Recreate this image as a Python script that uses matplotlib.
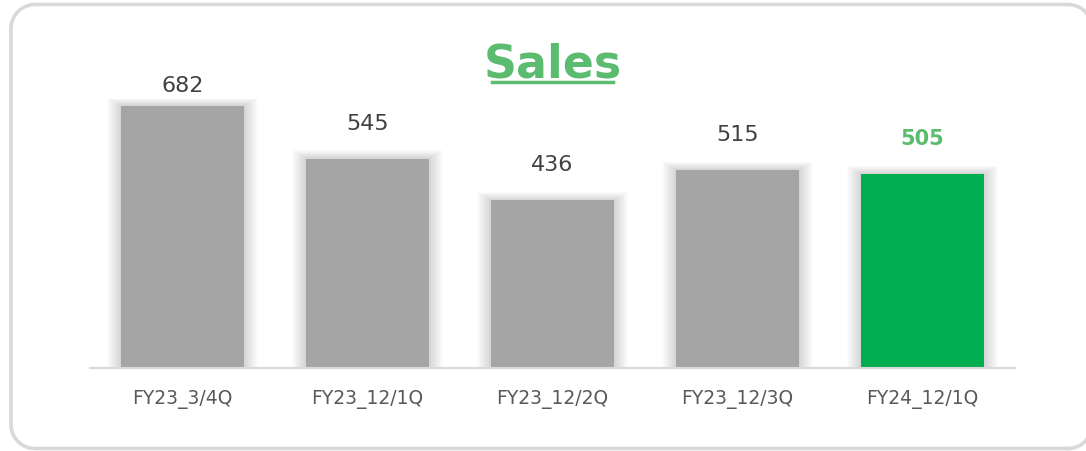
import matplotlib
matplotlib.use("Agg")
import numpy as np
import matplotlib.pyplot as plt
from matplotlib.lines import Line2D
from matplotlib.transforms import IdentityTransform

# ---------------- data ----------------
categories = ["FY23_3/4Q", "FY23_12/1Q", "FY23_12/2Q", "FY23_12/3Q", "FY24_12/1Q"]
sales = [682, 545, 436, 515, 505]
highlight = [False, False, False, False, True]

GRAY = "#A5A5A5"
GREEN = "#00AD4F"
TITLE_GREEN = "#5BBB6F"

W, H = 1086, 452
fig = plt.figure(figsize=(W / 100, H / 100), dpi=100)
fig.patch.set_facecolor("white")


def rounded_frame(x0, y0, x1, y1, r, n=20):
    # corner arcs, counter-clockwise, in pixel coords (y from bottom)
    xs, ys = [], []
    corners = [(x1 - r, y0 + r, -90), (x1 - r, y1 - r, 0),
               (x0 + r, y1 - r, 90), (x0 + r, y0 + r, 180)]
    for cx, cy, a0 in corners:
        t = np.radians(np.linspace(a0, a0 + 90, n))
        xs.extend(cx + r * np.cos(t))
        ys.extend(cy + r * np.sin(t))
    xs.append(xs[0])
    ys.append(ys[0])
    return xs, ys


fx, fy = rounded_frame(11, 2.5, 1092, 446.5, 24)
fig.lines.append(Line2D(fx, fy, transform=IdentityTransform(),
                        color="#D9D9D9", linewidth=2.6))

ax = fig.add_axes([90 / W, (H - 369) / H, 925 / W, 269 / H])
ymax = 700
ax.set_xlim(-0.5, len(categories) - 0.5)
ax.set_ylim(0, ymax)

px_x = 925 / len(categories)   # pixels per x unit
px_y = 269 / ymax              # pixels per y unit
bw = 123 / px_x

# soft shadow behind bars
for i, v in enumerate(sales):
    for m in range(1, 15):
        ax.bar(i, v + m * 0.6 / px_y + 3 / px_y, bottom=-3 / px_y,
               width=bw + 2 * m / px_x, color="black", alpha=0.012,
               linewidth=0, zorder=1)

colors = [GREEN if h else GRAY for h in highlight]
ax.bar(range(len(sales)), sales, width=bw, color=colors, linewidth=0, zorder=3)

for i, v in enumerate(sales):
    y = min(v + 26 / px_y, (369 - 96) / px_y)
    if highlight[i]:
        ax.text(i, y, str(v), ha="center", va="bottom", fontsize=15,
                fontweight="bold", color=TITLE_GREEN, zorder=4)
    else:
        ax.text(i, y, str(v), ha="center", va="bottom", fontsize=16,
                color="#404040", zorder=4)

for s in ["top", "right", "left"]:
    ax.spines[s].set_visible(False)
ax.spines["bottom"].set_color("#D9D9D9")
ax.spines["bottom"].set_linewidth(1.5)
ax.spines["bottom"].set_zorder(5)
ax.set_yticks([])
ax.set_xticks(range(len(categories)))
ax.set_xticklabels(categories, fontsize=13.5, color="#595959")
ax.tick_params(axis="x", length=0, pad=15)
ax.set_facecolor("none")

# title with underline
fig.text(553 / W, (H - 77) / H, "Sales", ha="center", va="baseline",
         fontsize=33, fontweight="bold", color=TITLE_GREEN)
fig.lines.append(Line2D([492 / W, 613 / W], [(H - 83) / H] * 2,
                        transform=fig.transFigure, color=TITLE_GREEN,
                        linewidth=2.5))

fig.savefig("out.png", dpi=100)
